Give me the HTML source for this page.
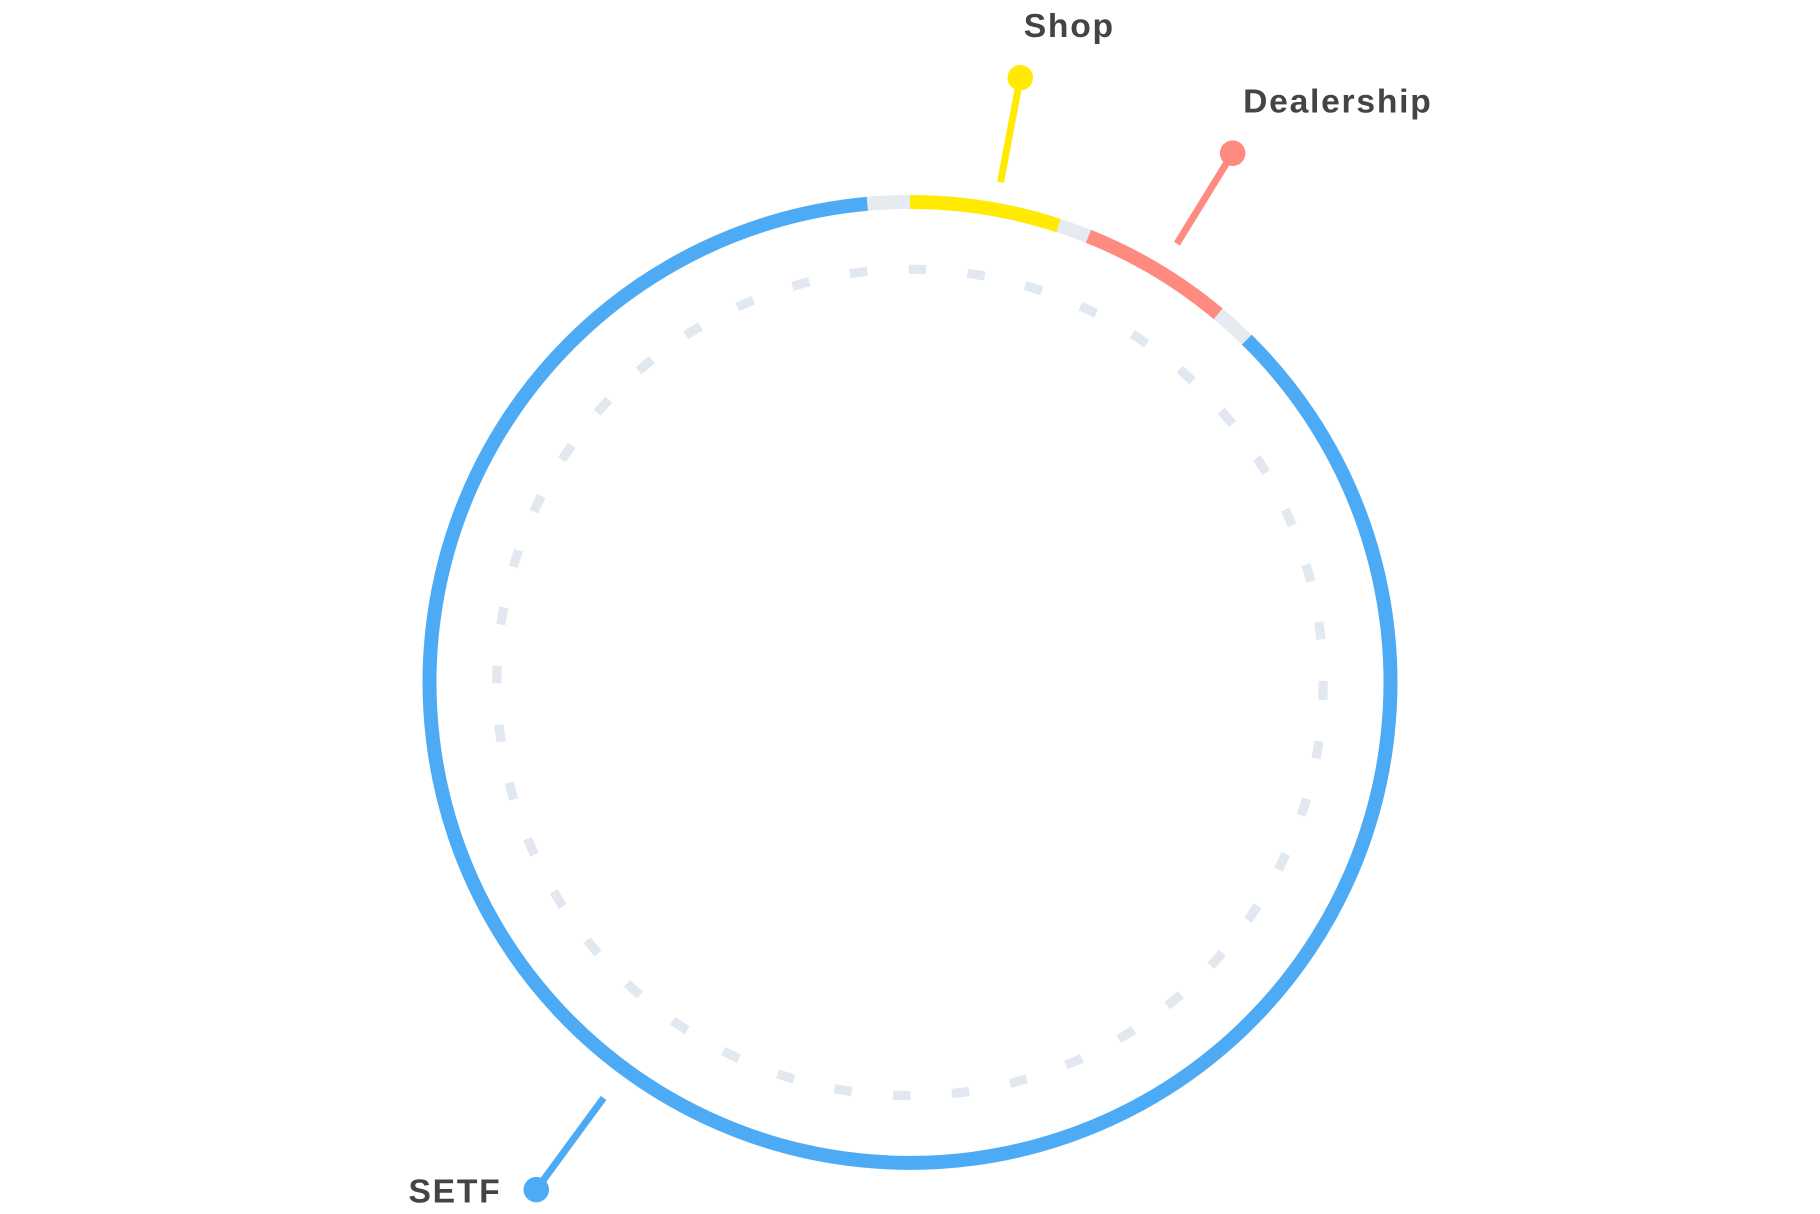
<!DOCTYPE html>
<html>
<head>
<meta charset="utf-8">
<style>
html,body{margin:0;padding:0;background:#fff;}
svg{display:block;}
text{font-family:"Liberation Sans",sans-serif;font-weight:bold;fill:#444;font-size:29px;letter-spacing:1.5px;}
</style>
</head>
<body>
<svg width="1820" height="1214" viewBox="0 0 1568 1046" xmlns="http://www.w3.org/2000/svg">
  <circle cx="784" cy="588" r="414" fill="none" stroke="#e6ebf1" stroke-width="12"/>
  <circle cx="784" cy="588" r="356" fill="none" stroke="#e2e8f0" stroke-width="8" stroke-dasharray="15 35.8"/>
  <path d="M784 174 A414 414 0 0 1 911.9 194.3" fill="none" stroke="#ffea00" stroke-width="12"/>
  <path d="M937.8 203.6 A414 414 0 0 1 1049.5 270.4" fill="none" stroke="#ff8a80" stroke-width="12"/>
  <path d="M1074.2 292.7 A414 414 0 1 1 747.2 175.6" fill="none" stroke="#4dabf5" stroke-width="12"/>

  <line x1="862" y1="157" x2="879" y2="67" stroke="#ffea00" stroke-width="6"/>
  <circle cx="879" cy="67" r="11" fill="#ffea00"/>
  <text x="882" y="32">Shop</text>

  <line x1="1014" y1="210" x2="1062" y2="132" stroke="#ff8a80" stroke-width="6"/>
  <circle cx="1062" cy="132" r="11" fill="#ff8a80"/>
  <text x="1071" y="97">Dealership</text>

  <line x1="520" y1="946" x2="462" y2="1025" stroke="#4dabf5" stroke-width="6"/>
  <circle cx="462" cy="1025" r="11" fill="#4dabf5"/>
  <text x="432" y="1036" text-anchor="end">SETF</text>
</svg>
</body>
</html>
